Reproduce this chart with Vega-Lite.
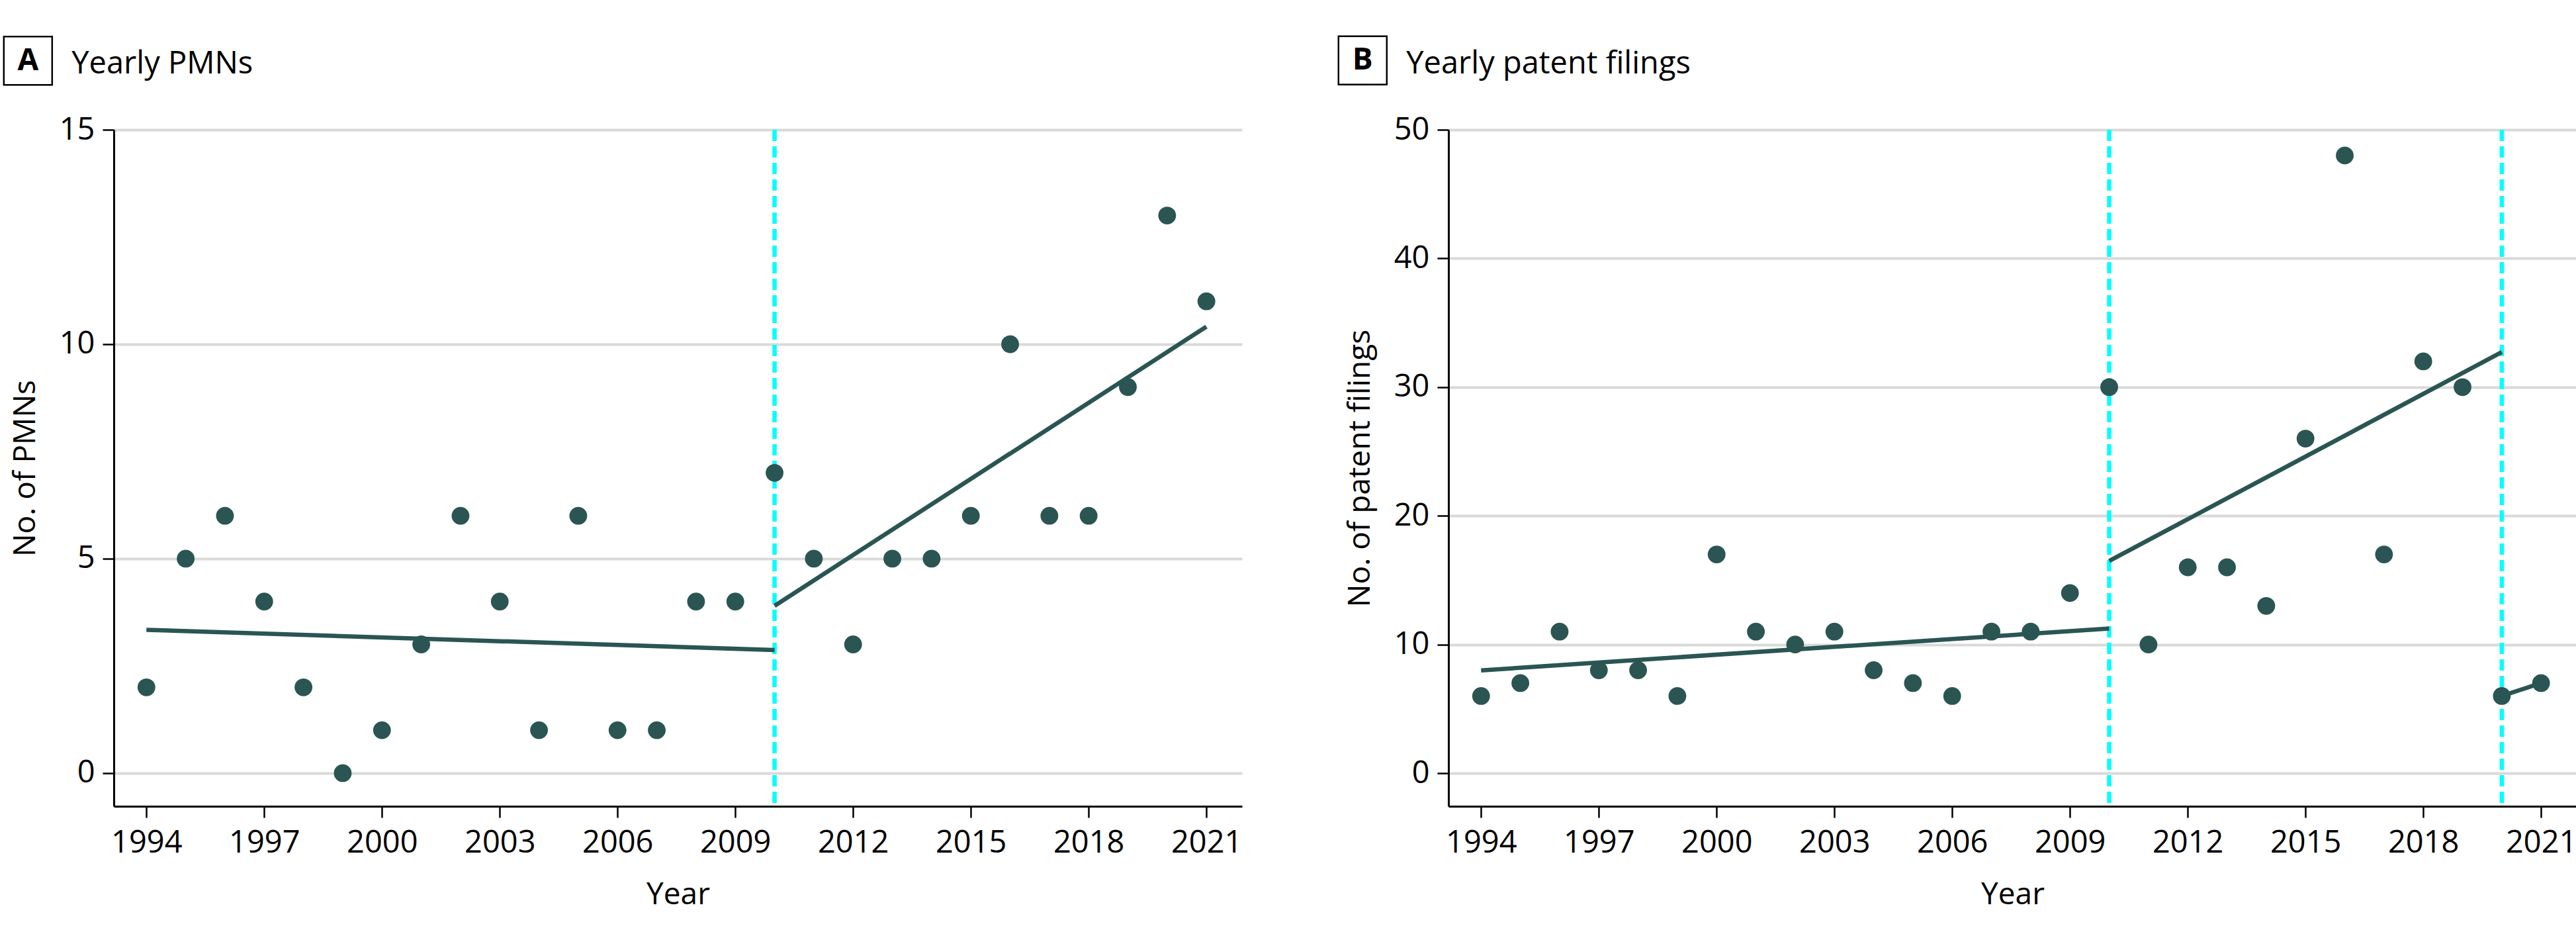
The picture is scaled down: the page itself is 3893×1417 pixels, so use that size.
{
  "$schema": "https://vega.github.io/schema/vega-lite/v6.json",
  "background": "white",
  "padding": {"left": 0, "top": 49, "right": 0, "bottom": 10},
  "spacing": 140,
  "config": {
    "view": {"stroke": null},
    "font": "Open Sans",
    "axis": {
      "labelFont": "Open Sans", "titleFont": "Open Sans",
      "labelFontSize": 47, "titleFontSize": 46, "titleFontWeight": "normal",
      "labelColor": "black", "titleColor": "black",
      "domainColor": "black", "tickColor": "black",
      "domainWidth": 3, "tickWidth": 2.5, "tickSize": 17,
      "gridColor": "#d9d9d9", "gridWidth": 4,
      "labelFlush": false, "labelOverlap": false, "labelAngle": 0
    }
  },
  "datasets": {
    "pmn": [
      {"year": 1994, "value": 2}, {"year": 1995, "value": 5}, {"year": 1996, "value": 6}, {"year": 1997, "value": 4},
      {"year": 1998, "value": 2}, {"year": 1999, "value": 0}, {"year": 2000, "value": 1}, {"year": 2001, "value": 3},
      {"year": 2002, "value": 6}, {"year": 2003, "value": 4}, {"year": 2004, "value": 1}, {"year": 2005, "value": 6},
      {"year": 2006, "value": 1}, {"year": 2007, "value": 1}, {"year": 2008, "value": 4}, {"year": 2009, "value": 4},
      {"year": 2010, "value": 7}, {"year": 2011, "value": 5}, {"year": 2012, "value": 3}, {"year": 2013, "value": 5},
      {"year": 2014, "value": 5}, {"year": 2015, "value": 6}, {"year": 2016, "value": 10}, {"year": 2017, "value": 6},
      {"year": 2018, "value": 6}, {"year": 2019, "value": 9}, {"year": 2020, "value": 13}, {"year": 2021, "value": 11}
    ],
    "pat": [
      {"year": 1994, "value": 6}, {"year": 1995, "value": 7}, {"year": 1996, "value": 11}, {"year": 1997, "value": 8},
      {"year": 1998, "value": 8}, {"year": 1999, "value": 6}, {"year": 2000, "value": 17}, {"year": 2001, "value": 11},
      {"year": 2002, "value": 10}, {"year": 2003, "value": 11}, {"year": 2004, "value": 8}, {"year": 2005, "value": 7},
      {"year": 2006, "value": 6}, {"year": 2007, "value": 11}, {"year": 2008, "value": 11}, {"year": 2009, "value": 14},
      {"year": 2010, "value": 30}, {"year": 2011, "value": 10}, {"year": 2012, "value": 16}, {"year": 2013, "value": 16},
      {"year": 2014, "value": 13}, {"year": 2015, "value": 26}, {"year": 2016, "value": 48}, {"year": 2017, "value": 17},
      {"year": 2018, "value": 32}, {"year": 2019, "value": 30}, {"year": 2020, "value": 6}, {"year": 2021, "value": 7}
    ],
    "trendA": [
      {"seg": "pre", "year": 1994, "value": 3.34}, {"seg": "pre", "year": 2010, "value": 2.87},
      {"seg": "post", "year": 2010, "value": 3.9}, {"seg": "post", "year": 2021, "value": 10.41}
    ],
    "trendB": [
      {"seg": "pre", "year": 1994, "value": 7.99}, {"seg": "pre", "year": 2010, "value": 11.24},
      {"seg": "mid", "year": 2010, "value": 16.49}, {"seg": "mid", "year": 2020, "value": 32.72},
      {"seg": "post", "year": 2020, "value": 6}, {"seg": "post", "year": 2021, "value": 7}
    ],
    "breaksA": [{"year": 2010}],
    "breaksB": [{"year": 2010}, {"year": 2020}],
    "labelA": [{"letter": "A", "title": "Yearly PMNs"}],
    "labelB": [{"letter": "B", "title": "Yearly patent filings"}]
  },
  "hconcat": [
    {
      "width": 1705,
      "height": 1022,
      "layer": [
        {"data": {"name": "breaksA"}, "mark": {"type": "rule", "color": "#00ffff", "strokeWidth": 6.5, "strokeDash": [17, 8]},
          "encoding": {
            "x": {"field": "year", "type": "quantitative", "scale": {"domain": [1993.169, 2021.907], "nice": false, "zero": false},
              "axis": {"values": [1994, 1997, 2000, 2003, 2006, 2009, 2012, 2015, 2018, 2021], "format": "d", "grid": false, "title": "Year", "labelPadding": 15, "titlePadding": 33}}}},
        {"data": {"name": "trendA"}, "mark": {"type": "line", "color": "#2a5553", "strokeWidth": 6.5},
          "encoding": {
            "x": {"field": "year", "type": "quantitative", "scale": {"domain": [1993.169, 2021.907], "nice": false, "zero": false},
              "axis": {"values": [1994, 1997, 2000, 2003, 2006, 2009, 2012, 2015, 2018, 2021], "format": "d", "grid": false, "title": "Year", "labelPadding": 15, "titlePadding": 33}},
            "y": {"field": "value", "type": "quantitative", "scale": {"domain": [-0.773, 15], "nice": false, "zero": false},
              "axis": {"values": [0, 5, 10, 15], "title": "No. of PMNs", "labelPadding": 12, "titlePadding": 27, "grid": true}},
            "detail": {"field": "seg", "type": "nominal"}}},
        {"data": {"name": "pmn"}, "mark": {"type": "point", "filled": true, "opacity": 1, "color": "#2a5553", "size": 720},
          "encoding": {
            "x": {"field": "year", "type": "quantitative", "scale": {"domain": [1993.169, 2021.907], "nice": false, "zero": false},
              "axis": {"values": [1994, 1997, 2000, 2003, 2006, 2009, 2012, 2015, 2018, 2021], "format": "d", "grid": false, "title": "Year", "labelPadding": 15, "titlePadding": 33}},
            "y": {"field": "value", "type": "quantitative", "scale": {"domain": [-0.773, 15], "nice": false, "zero": false},
              "axis": {"values": [0, 5, 10, 15], "title": "No. of PMNs", "labelPadding": 12, "titlePadding": 27, "grid": true}}}},
        {"data": {"name": "labelA"}, "mark": {"type": "point", "shape": "square", "filled": false, "stroke": "black", "strokeWidth": 2.5, "opacity": 1, "size": 5329, "clip": false},
          "encoding": {
            "x": {"datum": 1990.983, "type": "quantitative", "scale": {"domain": [1993.169, 2021.907], "nice": false, "zero": false},
              "axis": {"values": [1994, 1997, 2000, 2003, 2006, 2009, 2012, 2015, 2018, 2021], "format": "d", "grid": false, "title": "Year", "labelPadding": 15, "titlePadding": 33}},
            "y": {"datum": 16.61, "type": "quantitative", "scale": {"domain": [-0.773, 15], "nice": false, "zero": false},
              "axis": {"values": [0, 5, 10, 15], "title": "No. of PMNs", "labelPadding": 12, "titlePadding": 27, "grid": true}}}},
        {"data": {"name": "labelA"}, "mark": {"type": "text", "fontWeight": "bold", "fontSize": 46, "align": "center", "baseline": "middle", "color": "black", "clip": false},
          "encoding": {
            "text": {"field": "letter"},
            "x": {"datum": 1990.983, "type": "quantitative", "scale": {"domain": [1993.169, 2021.907], "nice": false, "zero": false},
              "axis": {"values": [1994, 1997, 2000, 2003, 2006, 2009, 2012, 2015, 2018, 2021], "format": "d", "grid": false, "title": "Year", "labelPadding": 15, "titlePadding": 33}},
            "y": {"datum": 16.61, "type": "quantitative", "scale": {"domain": [-0.773, 15], "nice": false, "zero": false},
              "axis": {"values": [0, 5, 10, 15], "title": "No. of PMNs", "labelPadding": 12, "titlePadding": 27, "grid": true}}}},
        {"data": {"name": "labelA"}, "mark": {"type": "text", "fontSize": 47, "align": "left", "baseline": "alphabetic", "color": "black", "clip": false},
          "encoding": {
            "text": {"field": "title"},
            "x": {"datum": 1992.095, "type": "quantitative", "scale": {"domain": [1993.169, 2021.907], "nice": false, "zero": false},
              "axis": {"values": [1994, 1997, 2000, 2003, 2006, 2009, 2012, 2015, 2018, 2021], "format": "d", "grid": false, "title": "Year", "labelPadding": 15, "titlePadding": 33}},
            "y": {"datum": 16.31, "type": "quantitative", "scale": {"domain": [-0.773, 15], "nice": false, "zero": false},
              "axis": {"values": [0, 5, 10, 15], "title": "No. of PMNs", "labelPadding": 12, "titlePadding": 27, "grid": true}}}}
      ]
    },
    {
      "width": 1705,
      "height": 1022,
      "layer": [
        {"data": {"name": "breaksB"}, "mark": {"type": "rule", "color": "#00ffff", "strokeWidth": 6.5, "strokeDash": [17, 8]},
          "encoding": {
            "x": {"field": "year", "type": "quantitative", "scale": {"domain": [1993.169, 2021.907], "nice": false, "zero": false},
              "axis": {"values": [1994, 1997, 2000, 2003, 2006, 2009, 2012, 2015, 2018, 2021], "format": "d", "grid": false, "title": "Year", "labelPadding": 15, "titlePadding": 33}}}},
        {"data": {"name": "trendB"}, "mark": {"type": "line", "color": "#2a5553", "strokeWidth": 6.5},
          "encoding": {
            "x": {"field": "year", "type": "quantitative", "scale": {"domain": [1993.169, 2021.907], "nice": false, "zero": false},
              "axis": {"values": [1994, 1997, 2000, 2003, 2006, 2009, 2012, 2015, 2018, 2021], "format": "d", "grid": false, "title": "Year", "labelPadding": 15, "titlePadding": 33}},
            "y": {"field": "value", "type": "quantitative", "scale": {"domain": [-2.57, 50], "nice": false, "zero": false},
              "axis": {"values": [0, 10, 20, 30, 40, 50], "title": "No. of patent filings", "labelPadding": 12, "titlePadding": 27, "grid": true}},
            "detail": {"field": "seg", "type": "nominal"}}},
        {"data": {"name": "pat"}, "mark": {"type": "point", "filled": true, "opacity": 1, "color": "#2a5553", "size": 720},
          "encoding": {
            "x": {"field": "year", "type": "quantitative", "scale": {"domain": [1993.169, 2021.907], "nice": false, "zero": false},
              "axis": {"values": [1994, 1997, 2000, 2003, 2006, 2009, 2012, 2015, 2018, 2021], "format": "d", "grid": false, "title": "Year", "labelPadding": 15, "titlePadding": 33}},
            "y": {"field": "value", "type": "quantitative", "scale": {"domain": [-2.57, 50], "nice": false, "zero": false},
              "axis": {"values": [0, 10, 20, 30, 40, 50], "title": "No. of patent filings", "labelPadding": 12, "titlePadding": 27, "grid": true}}}},
        {"data": {"name": "labelB"}, "mark": {"type": "point", "shape": "square", "filled": false, "stroke": "black", "strokeWidth": 2.5, "opacity": 1, "size": 5329, "clip": false},
          "encoding": {
            "x": {"datum": 1990.983, "type": "quantitative", "scale": {"domain": [1993.169, 2021.907], "nice": false, "zero": false},
              "axis": {"values": [1994, 1997, 2000, 2003, 2006, 2009, 2012, 2015, 2018, 2021], "format": "d", "grid": false, "title": "Year", "labelPadding": 15, "titlePadding": 33}},
            "y": {"datum": 55.39, "type": "quantitative", "scale": {"domain": [-2.57, 50], "nice": false, "zero": false},
              "axis": {"values": [0, 10, 20, 30, 40, 50], "title": "No. of patent filings", "labelPadding": 12, "titlePadding": 27, "grid": true}}}},
        {"data": {"name": "labelB"}, "mark": {"type": "text", "fontWeight": "bold", "fontSize": 46, "align": "center", "baseline": "middle", "color": "black", "clip": false},
          "encoding": {
            "text": {"field": "letter"},
            "x": {"datum": 1990.983, "type": "quantitative", "scale": {"domain": [1993.169, 2021.907], "nice": false, "zero": false},
              "axis": {"values": [1994, 1997, 2000, 2003, 2006, 2009, 2012, 2015, 2018, 2021], "format": "d", "grid": false, "title": "Year", "labelPadding": 15, "titlePadding": 33}},
            "y": {"datum": 55.39, "type": "quantitative", "scale": {"domain": [-2.57, 50], "nice": false, "zero": false},
              "axis": {"values": [0, 10, 20, 30, 40, 50], "title": "No. of patent filings", "labelPadding": 12, "titlePadding": 27, "grid": true}}}},
        {"data": {"name": "labelB"}, "mark": {"type": "text", "fontSize": 47, "align": "left", "baseline": "alphabetic", "color": "black", "clip": false},
          "encoding": {
            "text": {"field": "title"},
            "x": {"datum": 1992.095, "type": "quantitative", "scale": {"domain": [1993.169, 2021.907], "nice": false, "zero": false},
              "axis": {"values": [1994, 1997, 2000, 2003, 2006, 2009, 2012, 2015, 2018, 2021], "format": "d", "grid": false, "title": "Year", "labelPadding": 15, "titlePadding": 33}},
            "y": {"datum": 54.38, "type": "quantitative", "scale": {"domain": [-2.57, 50], "nice": false, "zero": false},
              "axis": {"values": [0, 10, 20, 30, 40, 50], "title": "No. of patent filings", "labelPadding": 12, "titlePadding": 27, "grid": true}}}}
      ]
    }
  ]
}
